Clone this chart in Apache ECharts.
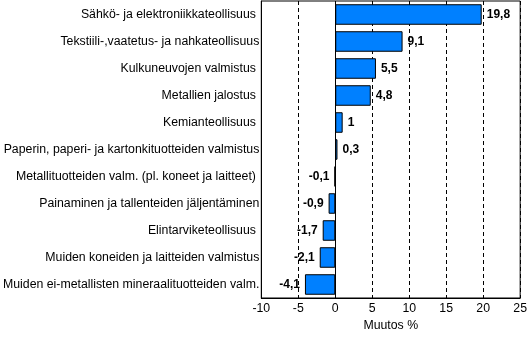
<!DOCTYPE html>
<html><head><meta charset="utf-8">
<script src="https://cdn.jsdelivr.net/npm/echarts@6/dist/echarts.min.js"></script>
<style>html,body{margin:0;padding:0;background:#fff}#c{width:530px;height:337px}</style>
</head><body><div id="c"></div>
<script>
var categories = [
  "Sähkö- ja elektroniikkateollisuus ",
  "Tekstiili-,vaatetus- ja nahkateollisuus",
  "Kulkuneuvojen valmistus ",
  "Metallien jalostus ",
  "Kemianteollisuus ",
  "Paperin, paperi- ja kartonkituotteiden valmistus",
  "Metallituotteiden valm. (pl. koneet ja laitteet) ",
  "Painaminen ja tallenteiden jäljentäminen",
  "Elintarviketeollisuus ",
  "Muiden koneiden ja laitteiden valmistus",
  "Muiden ei-metallisten mineraalituotteiden valm."
];
var values = [19.8, 9.1, 5.5, 4.8, 1, 0.3, -0.1, -0.9, -1.7, -2.1, -4.1];
var xTicks = [-10, -5, 0, 5, 10, 15, 20, 25];
var axisTitle = "Muutos %";

var chart = echarts.init(document.getElementById('c'));
var data = values.map(function (v) {
  return v < 0 ? {value: v, label: {position: 'left'}} : v;
});
chart.setOption({
  animation: false,
  grid: {left: 259, right: 6, top: 1, bottom: 34, show: true, borderColor: '#000', borderWidth: 1, containLabel: false},
  xAxis: {
    type: 'value', min: xTicks[0], max: xTicks[xTicks.length - 1], interval: 5,
    name: axisTitle, nameLocation: 'middle', nameGap: 22,
    nameTextStyle: {fontFamily: 'Liberation Sans, Arial', fontSize: 12.3, color: '#000'},
    axisLine: {show: true, onZero: false, lineStyle: {color: '#000'}},
    axisTick: {show: false},
    axisLabel: {fontFamily: 'Liberation Sans, Arial', fontSize: 12.3, color: '#000', margin: 5},
    splitLine: {show: true, lineStyle: {color: '#000', type: [4, 3], width: 1}}
  },
  yAxis: {
    type: 'category', data: categories, inverse: true,
    axisLine: {show: true, onZero: false, lineStyle: {color: '#000'}},
    axisTick: {show: false},
    axisLabel: {fontFamily: 'Liberation Sans, Arial', fontSize: 12.3, color: '#000', margin: 2}
  },
  series: [{
    type: 'bar', data: data, barWidth: '76%',
    itemStyle: {color: '#0080FF', borderColor: '#000', borderWidth: 1},
    label: {
      show: true, position: 'right', distance: 5,
      fontFamily: 'Liberation Sans Narrow, Arial Narrow, Liberation Sans', fontWeight: 'bold', fontSize: 12, color: '#000',
      formatter: function (p) { return String(p.value).replace('.', ','); }
    },
    markLine: {
      silent: true, symbol: 'none', label: {show: false},
      lineStyle: {color: '#000', type: 'solid', width: 1},
      data: [{xAxis: 0}]
    }
  }]
});
</script>
</body></html>
